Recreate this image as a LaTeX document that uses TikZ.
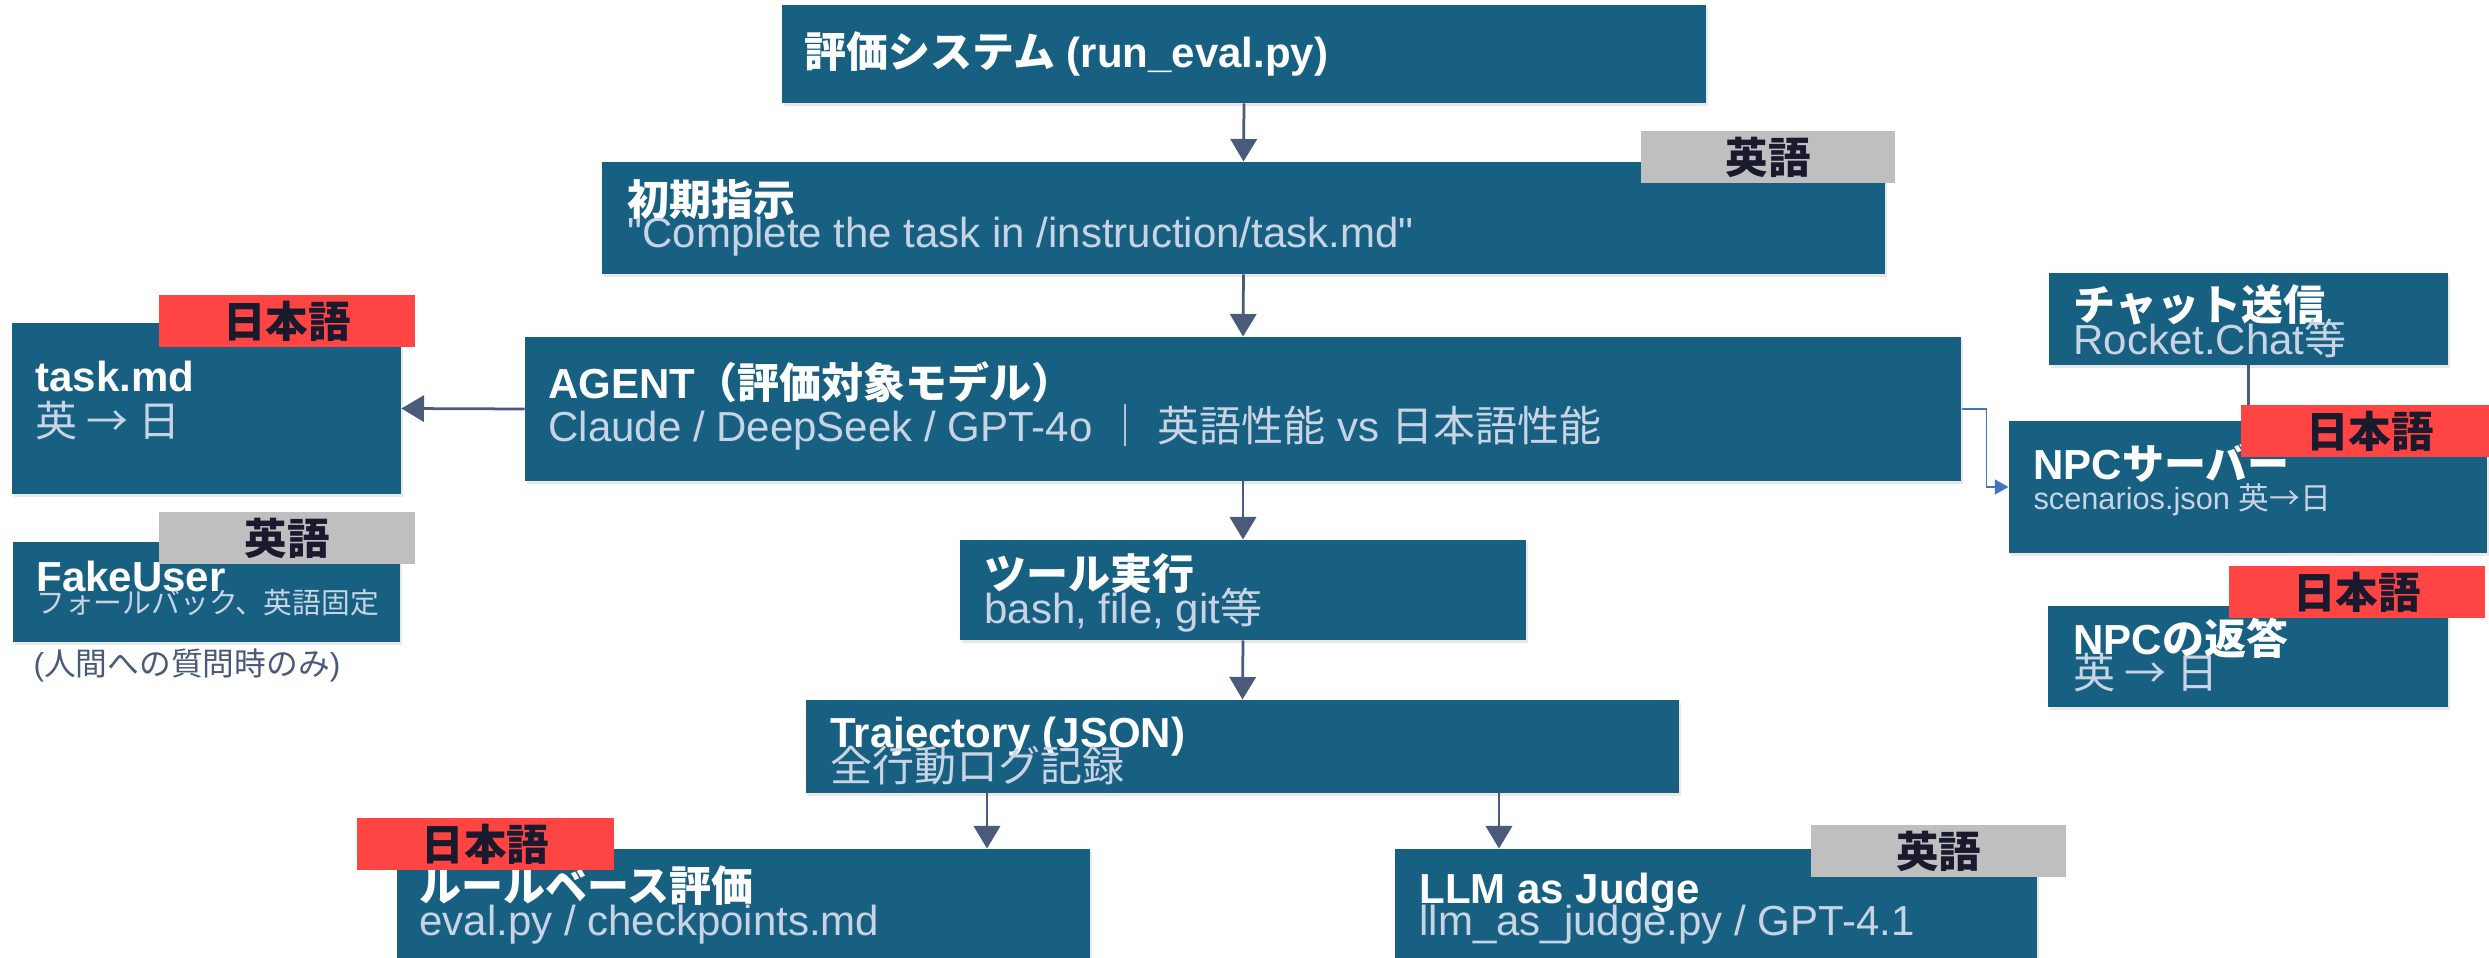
\documentclass[tikz,border=0pt]{standalone}
\usepackage{fontspec}
\setmainfont{Liberation Sans}
\newfontfamily\plainsans{Liberation Sans}
\newfontfamily\jp{Noto Sans CJK JP}
\usetikzlibrary{fit,shadows,arrows.meta,calc}
\definecolor{boxblue}{RGB}{24,96,130}
\definecolor{subtxt}{RGB}{200,212,228}
\definecolor{tagred}{RGB}{255,68,68}
\definecolor{taggray}{RGB}{191,191,191}
\definecolor{tagtxt}{RGB}{26,26,46}
\definecolor{arrcol}{RGB}{74,90,122}
\definecolor{linkblue}{RGB}{68,114,196}
\begin{document}
\begin{tikzpicture}[x=0.4pt,y=-0.4pt,
  mainbox/.style={fill=boxblue, draw=none, inner sep=0pt,
    drop shadow={opacity=0.18, shadow xshift=0.8pt, shadow yshift=-1.2pt}},
  ttl/.style={anchor=base west, inner sep=0pt, text=white,
    font=\fontsize{16.8}{18}\selectfont\bfseries},
  sub/.style={anchor=base west, inner sep=0pt, text=subtxt,
    font=\fontsize{16.8}{18}\selectfont},
  smallsub/.style={anchor=base west, inner sep=0pt, text=subtxt,
    font=\fontsize{12.3}{14}\selectfont},
  note/.style={anchor=base west, inner sep=0pt, text=arrcol,
    font=\fontsize{12.7}{14}\selectfont},
  tagr/.style={fill=tagred, draw=none, inner sep=0pt},
  tagg/.style={fill=taggray, draw=none, inner sep=0pt},
  tagtext/.style={inner sep=0pt, text=tagtxt, anchor=center,
    font=\fontsize{17}{18}\selectfont\jp\bfseries},
  arr/.style={draw=arrcol, line width=1.1pt, -{Triangle[length=9pt,width=10.5pt]}},
  plainline/.style={draw=arrcol, line width=1.1pt},
  bluearr/.style={draw=linkblue, line width=0.7pt, -{Triangle[length=5.5pt,width=6pt]}}
]
\useasboundingbox (0,0) rectangle (2489,958);
\clip (0,0) rectangle (2489,958);
\fill[white] (0,0) rectangle (2489,958);

% boxes
\node[mainbox, fit={(782,5)(1706,103)}] (top) {};
\node[mainbox, fit={(602,162)(1885,274)}] (init) {};
\node[mainbox, fit={(525,337)(1961,481)}] (agent) {};
\node[mainbox, fit={(12,323)(401,494)}] (task) {};
\node[mainbox, fit={(13,542)(400,642)}] (fake) {};
\node[mainbox, fit={(2049,273)(2448,365)}] (chat) {};
\node[mainbox, fit={(2009,421)(2487,553)}] (npc) {};
\node[mainbox, fit={(2048,606)(2448,707)}] (reply) {};
\node[mainbox, fit={(960,540)(1526,640)}] (tool) {};
\node[mainbox, fit={(806,700)(1679,793)}] (traj) {};
\node[mainbox, fit={(397,849)(1090,990)}] (rule) {};
\node[mainbox, fit={(1395,849)(2037,990)}] (llm) {};

\coordinate (c1) at (987,0);
\coordinate (c2) at (1499,0);

% connectors
\draw[arr] (top.south) -- (init.north);
\draw[arr] (init.south) -- (agent.north);
\draw[arr] (agent.south) -- (tool.north);
\draw[arr] (tool.south) -- (traj.north);
\draw[arr] (agent.west) -- (task.east);
\draw[arr] (traj.south -| c1) -- (rule.north -| c1);
\draw[arr] (traj.south -| c2) -- (llm.north -| c2);
\draw[bluearr] (agent.east) -- ++(25,0) |- (npc.west);
\draw[plainline] (chat.south) -- (chat.south |- npc.north);

% texts
\node[ttl] (topt) at (804,68) {{\jp 評価システム} (run\_eval.py)};
\node[ttl] (initt) at (627,216) {\jp 初期指示};
\node[sub] (inits) at (627,248) {{\plainsans "}Complete the task in /instruction/task.md{\plainsans "}};
\node[ttl] (agentt) at (548,399) {AGENT{\jp （評価対象モデル）}};
\node[sub] (agents) at (548,442) {Claude / DeepSeek / GPT-4o {\jp ｜} {\jp 英語性能} vs {\jp 日本語性能}};
\node[ttl] (taskt) at (35,392) {task.md};
\node[sub] (tasks) at (35,437) {\jp 英 → 日};
\node[ttl] (faket) at (36,592) {FakeUser};
\node[smallsub, font=\fontsize{11.5}{13}\selectfont] (fakes) at (36,614) {\jp フォールバック、英語固定};
\node[note] (noteu) at (33,676) {({\jp 人間への質問時のみ})};
\node[ttl] (chatt) at (2073,321) {\jp チャット送信};
\node[sub] (chats) at (2073,355) {Rocket.Chat{\jp 等}};
\node[ttl] (npct) at (2033,480) {NPC{\jp サーバー}};
\node[smallsub] (npcs) at (2033,510) {scenarios.json {\jp 英→日}};
\node[ttl] (replyt) at (2073,655) {NPC{\jp の返答}};
\node[sub] (replys) at (2073,689) {\jp 英 → 日};
\node[ttl] (toolt) at (984,590) {\jp ツール実行};
\node[sub] (tools) at (984,624) {bash, file, git{\jp 等}};
\node[ttl] (trajt) at (830,748) {Trajectory (JSON)};
\node[sub] (trajs) at (830,782) {\jp 全行動ログ記録};
\node[ttl] (rulet) at (419,902) {\jp ルールベース評価};
\node[sub] (rules) at (419,936) {eval.py / checkpoints.md};
\node[ttl] (llmt) at (1419,903) {LLM as Judge};
\node[sub] (llms) at (1419,936) {llm\_as\_judge.py / GPT-4.1};

% tags
\node[tagg, fit={(1641,131)(1895,183)}] (tag1) {};
\node[tagr, fit={(159,295)(415,347)}] (tag2) {};
\node[tagg, fit={(159,512)(415,564)}] (tag3) {};
\node[tagr, fit={(2241,405)(2489,457)}] (tag4) {};
\node[tagr, fit={(2229,566)(2485,618)}] (tag5) {};
\node[tagr, fit={(357,818)(614,870)}] (tag6) {};
\node[tagg, fit={(1811,825)(2066,877)}] (tag7) {};
\node[tagtext] (tag1t) at (tag1.center) {英語};
\node[tagtext] (tag2t) at (tag2.center) {日本語};
\node[tagtext] (tag3t) at (tag3.center) {英語};
\node[tagtext] (tag4t) at ([xshift=2pt]tag4.center) {日本語};
\node[tagtext] (tag5t) at (tag5.center) {日本語};
\node[tagtext] (tag6t) at (tag6.center) {日本語};
\node[tagtext] (tag7t) at (tag7.center) {英語};
\end{tikzpicture}
\end{document}
